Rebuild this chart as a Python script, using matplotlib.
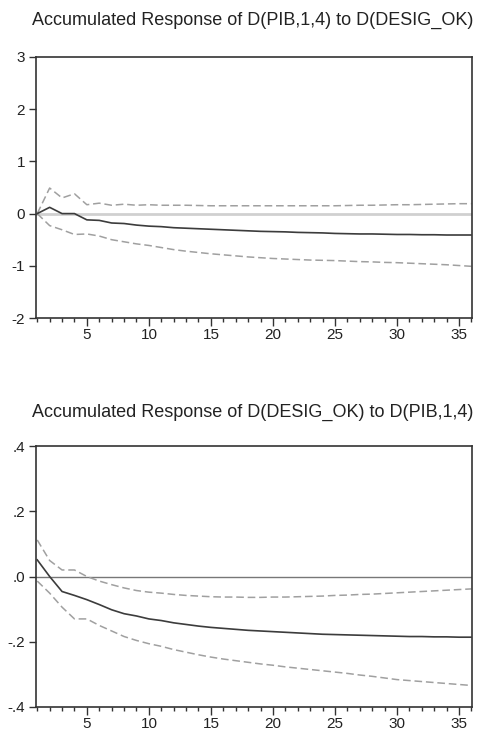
import matplotlib
matplotlib.use("Agg")
import matplotlib.pyplot as plt
from matplotlib.ticker import MultipleLocator, FixedLocator
import numpy as np

periods = list(range(1, 37))

top_title = "Accumulated Response of D(PIB,1,4) to D(DESIG_OK)"
top_mean = [0.00, 0.12, 0.00, 0.00, -0.12, -0.13, -0.18, -0.19, -0.22, -0.24,
            -0.25, -0.27, -0.28, -0.29, -0.30, -0.31, -0.32, -0.33, -0.34, -0.345,
            -0.35, -0.36, -0.365, -0.37, -0.38, -0.385, -0.39, -0.39, -0.395, -0.40,
            -0.40, -0.405, -0.405, -0.41, -0.41, -0.41]
top_upper = [0.00, 0.49, 0.30, 0.38, 0.17, 0.20, 0.16, 0.18, 0.16, 0.17,
             0.16, 0.16, 0.16, 0.155, 0.15, 0.15, 0.15, 0.15, 0.15, 0.15,
             0.15, 0.15, 0.15, 0.15, 0.15, 0.155, 0.16, 0.16, 0.165, 0.17,
             0.17, 0.175, 0.18, 0.185, 0.19, 0.19]
top_lower = [0.00, -0.23, -0.31, -0.40, -0.39, -0.43, -0.50, -0.54, -0.58, -0.61,
             -0.65, -0.69, -0.72, -0.745, -0.77, -0.79, -0.81, -0.83, -0.845, -0.86,
             -0.87, -0.88, -0.89, -0.895, -0.90, -0.91, -0.92, -0.925, -0.935, -0.94,
             -0.95, -0.96, -0.97, -0.98, -0.995, -1.01]
top_yticks = [3, 2, 1, 0, -1, -2]
top_yticklabels = ["3", "2", "1", "0", "-1", "-2"]

bot_title = "Accumulated Response of D(DESIG_OK) to D(PIB,1,4)"
bot_mean = [0.051, 0.000, -0.046, -0.058, -0.071, -0.086, -0.102, -0.114, -0.121, -0.130,
            -0.135, -0.142, -0.147, -0.152, -0.156, -0.159, -0.162, -0.165, -0.167, -0.169,
            -0.171, -0.173, -0.175, -0.177, -0.178, -0.179, -0.180, -0.181, -0.182, -0.183,
            -0.184, -0.184, -0.185, -0.185, -0.186, -0.186]
bot_upper = [0.112, 0.049, 0.020, 0.020, 0.000, -0.014, -0.025, -0.035, -0.043, -0.048,
             -0.051, -0.055, -0.058, -0.060, -0.062, -0.063, -0.063, -0.064, -0.064, -0.063,
             -0.063, -0.062, -0.061, -0.060, -0.058, -0.057, -0.055, -0.054, -0.052, -0.050,
             -0.048, -0.046, -0.044, -0.042, -0.040, -0.038]
bot_lower = [-0.014, -0.051, -0.094, -0.130, -0.130, -0.150, -0.167, -0.184, -0.196, -0.206,
             -0.214, -0.224, -0.232, -0.240, -0.247, -0.253, -0.258, -0.263, -0.268, -0.272,
             -0.277, -0.281, -0.285, -0.289, -0.293, -0.297, -0.302, -0.306, -0.311, -0.316,
             -0.319, -0.322, -0.325, -0.328, -0.331, -0.334]
bot_yticks = [0.4, 0.2, 0.0, -0.2, -0.4]
bot_yticklabels = [".4", ".2", ".0", "-.2", "-.4"]

xticks = [5, 10, 15, 20, 25, 30, 35]

plt.rcParams['font.family'] = ['Liberation Sans', 'DejaVu Sans']

W, H = 478, 733
fig = plt.figure(figsize=(W / 100, H / 100), dpi=100)

def make_ax(top_px, bottom_px):
    left, right = 36, 472
    return fig.add_axes([left / W, 1 - bottom_px / H, (right - left) / W, (bottom_px - top_px) / H])

ax1 = make_ax(57, 318)
ax2 = make_ax(446, 707)

def style(ax, mean, upper, lower, yticks, ylabels, ylim, zero_color, zero_lw):
    ax.axhline(0, color=zero_color, lw=zero_lw, zorder=1)
    ax.plot(periods, upper, color="#a0a0a0", lw=1.1, ls=(0, (5, 2.5)), zorder=2)
    ax.plot(periods, lower, color="#a0a0a0", lw=1.1, ls=(0, (5, 2.5)), zorder=2)
    ax.plot(periods, mean, color="#3c3c3c", lw=1.2, zorder=3)
    ax.set_xlim(0.9, 36.05)
    ax.set_ylim(*ylim)
    ax.yaxis.set_major_locator(FixedLocator(yticks))
    ax.set_yticklabels(ylabels)
    ax.xaxis.set_major_locator(FixedLocator(xticks))
    ax.xaxis.set_minor_locator(MultipleLocator(1))
    ax.set_xticklabels([str(t) for t in xticks])
    ax.tick_params(axis="both", which="major", direction="out", length=5, width=1,
                   color="#333333", labelsize=11, labelcolor="#222222", pad=3)
    ax.tick_params(axis="x", which="minor", direction="out", length=3, width=1, color="#333333")
    ax.tick_params(axis="x", which="major", length=6, pad=1.5)
    for s in ax.spines.values():
        s.set_color("#333333")
        s.set_linewidth(1.2)

style(ax1, top_mean, top_upper, top_lower, top_yticks, top_yticklabels, (-2, 3), "#d0d0d0", 2.0)
style(ax2, bot_mean, bot_upper, bot_lower, bot_yticks, bot_yticklabels, (-0.4, 0.4), "#777777", 1.0)

fig.text(253 / W, 1 - 20 / H, top_title, ha="center", va="center", fontsize=13, color="#222222")
fig.text(253 / W, 1 - 412 / H, bot_title, ha="center", va="center", fontsize=13, color="#222222")

fig.savefig("out.png", dpi=100)
